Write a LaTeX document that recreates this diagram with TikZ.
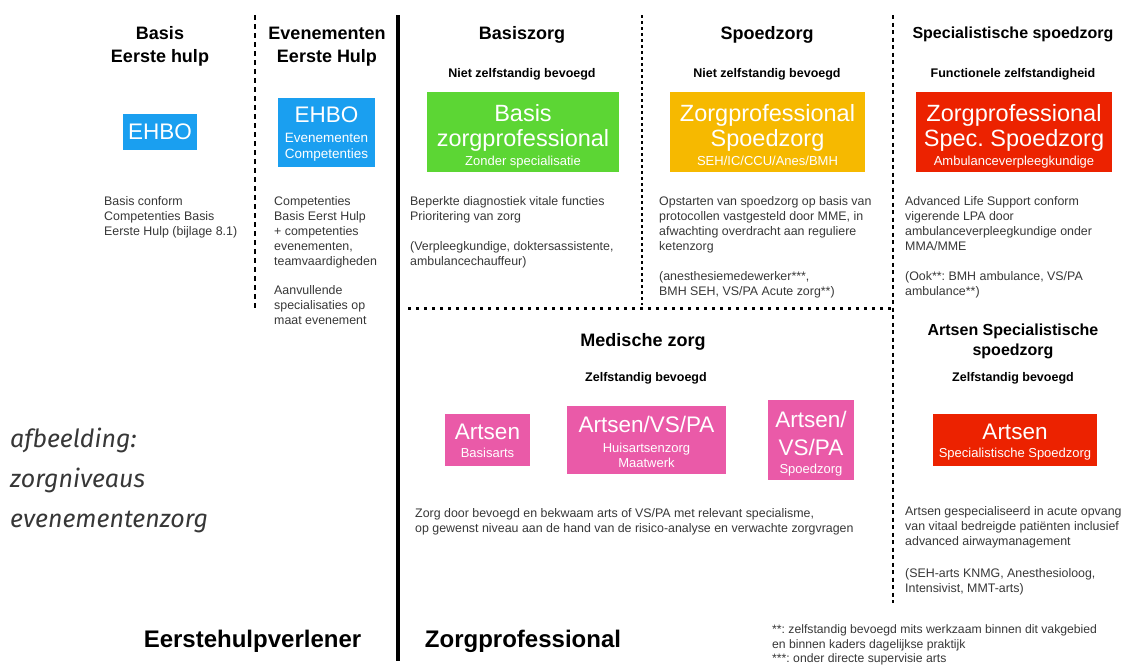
\documentclass[tikz,border=0pt]{standalone}
\usepackage{fontspec}
\setmainfont{Liberation Sans}
\newfontfamily\bijschriftfont{Fira Sans}
\usetikzlibrary{positioning}
\frenchspacing

\definecolor{ehboblauw}{RGB}{26,159,240}
\definecolor{basisgroen}{RGB}{92,214,52}
\definecolor{spoedoranje}{RGB}{246,185,0}
\definecolor{specrood}{RGB}{236,34,0}
\definecolor{artsroze}{RGB}{234,90,168}
\definecolor{tekstgrijs}{RGB}{55,55,55}

\newcommand{\klein}[1]{{\fontsize{13}{14}\selectfont #1}}

\begin{document}
\begin{tikzpicture}[x=1pt, y=-1pt,
  kop/.style={anchor=north, inner sep=0pt, align=center, font=\bfseries\fontsize{18}{23}\selectfont},
  subkop/.style={anchor=north, inner sep=0pt, font=\bfseries\fontsize{12.5}{14}\selectfont},
  tekst/.style={anchor=north west, inner sep=0pt, align=left, text=tekstgrijs, font=\fontsize{12.4}{15}\selectfont},
  vak/.style={fill=#1, inner sep=0pt},
  vaktekst/.style={anchor=north, inner sep=0pt, align=center, text=white, font=\fontsize{23.5}{25}\selectfont},
  bijschrift/.style={anchor=base west, inner sep=0pt, text=tekstgrijs, font=\bijschriftfont\itshape\fontsize{25}{30}\selectfont},
  scheiding/.style={line width=3.5pt},
  streep/.style={line width=2.5pt, dash pattern=on 5pt off 4pt},
  stip/.style={line width=2.5pt, dash pattern=on 2.5pt off 5.5pt}]
\useasboundingbox (0,0) rectangle (1127,664);

% scheidingslijnen
\draw[scheiding] (398,15) -- (398,661);
\draw[streep] (255,15) -- (255,308);
\draw[stip, dash pattern=on 3pt off 3pt] (642,15) -- (642,305);
\draw[stip, dash pattern=on 4pt off 3.5pt] (893,15) -- (893,603);
\draw[stip] (408,308.5) -- (893,308.5);

% koppen
\node[kop] (kopbasis) at (160,26.5) {Basis\\Eerste hulp};
\node[kop] (kopeven) at (327,26.5) {Evenementen\\Eerste Hulp};
\node[kop] (kopbasiszorg) at (522,26.5) {Basiszorg};
\node[kop] (kopspoed) at (767,26.5) {Spoedzorg};
\node[kop, font=\bfseries\fontsize{16}{20}\selectfont] (kopspec) at (1013,26.5) {Specialistische spoedzorg};
\node[kop] (kopmedisch) at (643,333.5) {Medische zorg};
\node[kop, font=\bfseries\fontsize{16}{20}\selectfont] (kopartsspec) at (1013,324) {Artsen Specialistische\\spoedzorg};

\node[subkop] (subbasiszorg) at (522,68) {Niet zelfstandig bevoegd};
\node[subkop] (subspoed) at (767,68) {Niet zelfstandig bevoegd};
\node[subkop] (subspec) at (1013,68) {Functionele zelfstandigheid};
\node[subkop] (submedisch) at (646,372.5) {Zelfstandig bevoegd};
\node[subkop] (subartsspec) at (1013,372.5) {Zelfstandig bevoegd};

% vakken
\node[vak=ehboblauw, minimum width=74, minimum height=36, text=white, font=\fontsize{22.5}{24}\selectfont] (ehbo) at (160,132) {EHBO};
\node[vak=ehboblauw, minimum width=97, minimum height=69] (ehboeven) at (326.5,132.5) {};
\node[vaktekst, font=\fontsize{22.5}{20}\selectfont] (ehboeventekst) at (326.5,107) {EHBO\\{\fontsize{13.5}{15}\selectfont Evenementen}\\[-4pt]{\fontsize{13.5}{15}\selectfont Competenties}};

\node[vak=basisgroen, minimum width=192, minimum height=80] (basisvak) at (523,132) {};
\node[vaktekst] (basisvaktekst) at (523,104) {Basis\\zorgprofessional\\[-6pt]\klein{Zonder specialisatie}};
\node[vak=spoedoranje, minimum width=195, minimum height=80] (spoedvak) at (767.5,132) {};
\node[vaktekst] (spoedvaktekst) at (767.5,104) {Zorgprofessional\\Spoedzorg\\[-6pt]\klein{SEH/IC/CCU/Anes/BMH}};
\node[vak=specrood, minimum width=196, minimum height=80] (specvak) at (1014,132) {};
\node[vaktekst] (specvaktekst) at (1014,104) {Zorgprofessional\\Spec. Spoedzorg\\[-6pt]\klein{Ambulanceverpleegkundige}};

\node[vak=artsroze, minimum width=85, minimum height=52] (artsbasis) at (487.5,440) {};
\node[vaktekst, font=\fontsize{22.5}{22}\selectfont] (artsbasistekst) at (487.5,424) {Artsen\\[-4pt]\klein{Basisarts}};
\node[vak=artsroze, minimum width=159, minimum height=68] (artshuis) at (646.5,440) {};
\node[vaktekst, font=\fontsize{22.5}{20}\selectfont] (artshuistekst) at (646.5,416) {Artsen/VS/PA\\\klein{Huisartsenzorg}\\[-5pt]\klein{Maatwerk}};
\node[vak=artsroze, minimum width=86, minimum height=80] (artsspoed) at (811,440) {};
\node[vaktekst, font=\fontsize{22.5}{28}\selectfont] (artsspoedtekst) at (811,411) {Artsen/\\VS/PA\\[-10pt]\klein{Spoedzorg}};
\node[vak=specrood, minimum width=164, minimum height=52] (artsspec) at (1015,440) {};
\node[vaktekst, font=\fontsize{22.5}{22}\selectfont] (artsspectekst) at (1015,424) {Artsen\\[-4pt]\klein{Specialistische Spoedzorg}};

% toelichting
\node[tekst] (tekstbasis) at (104,196) {Basis conform\\Competenties Basis\\Eerste Hulp (bijlage 8.1)};
\node[tekst] (teksteven) at (274,196) {Competenties\\Basis Eerst Hulp\\+ competenties\\evenementen,\\teamvaardigheden\\[14pt]Aanvullende\\specialisaties op\\maat evenement};
\node[tekst] (tekstbasiszorg) at (410,196) {Beperkte diagnostiek vitale functies\\Prioritering van zorg\\[15pt](Verpleegkundige, doktersassistente,\\ambulancechauffeur)};
\node[tekst] (tekstspoed) at (659,196) {Opstarten van spoedzorg op basis van\\protocollen vastgesteld door MME, in\\afwachting overdracht aan reguliere\\ketenzorg\\[15pt](anesthesiemedewerker***,\\BMH SEH, VS/PA Acute zorg**)};
\node[tekst] (tekstspec) at (905,196) {Advanced Life Support conform\\vigerende LPA door\\ambulanceverpleegkundige onder\\MMA/MME\\[15pt](Ook**: BMH ambulance, VS/PA\\ambulance**)};
\node[tekst] (tekstmedisch) at (415,508) {Zorg door bevoegd en bekwaam arts of VS/PA met relevant specialisme,\\op gewenst niveau aan de hand van de risico-analyse en verwachte zorgvragen};
\node[tekst] (tekstartsspec) at (905,506) {Artsen gespecialiseerd in acute opvang\\van vitaal bedreigde pati\"enten inclusief\\advanced airwaymanagement\\[17pt](SEH-arts KNMG, Anesthesioloog,\\Intensivist, MMT-arts)};

% onderschriften
\node[kop, font=\bfseries\fontsize{24}{26}\selectfont] (eerstehulp) at (252.5,629.5) {Eerstehulpverlener};
\node[kop, font=\bfseries\fontsize{24}{26}\selectfont] (zorgprof) at (523,629.5) {Zorgprofessional};
\node[tekst, font=\fontsize{12.2}{14.5}\selectfont] (voetnoot) at (772,624.5) {**: zelfstandig bevoegd mits werkzaam binnen dit vakgebied\\en binnen kaders dagelijkse praktijk\\***: onder directe supervisie arts};

\foreach \regel [count=\i] in {afbeelding:, zorgniveaus, evenementenzorg}
  \node[bijschrift] (bijschrift\i) at (10,407+40*\i) {\regel};
\end{tikzpicture}
\end{document}
